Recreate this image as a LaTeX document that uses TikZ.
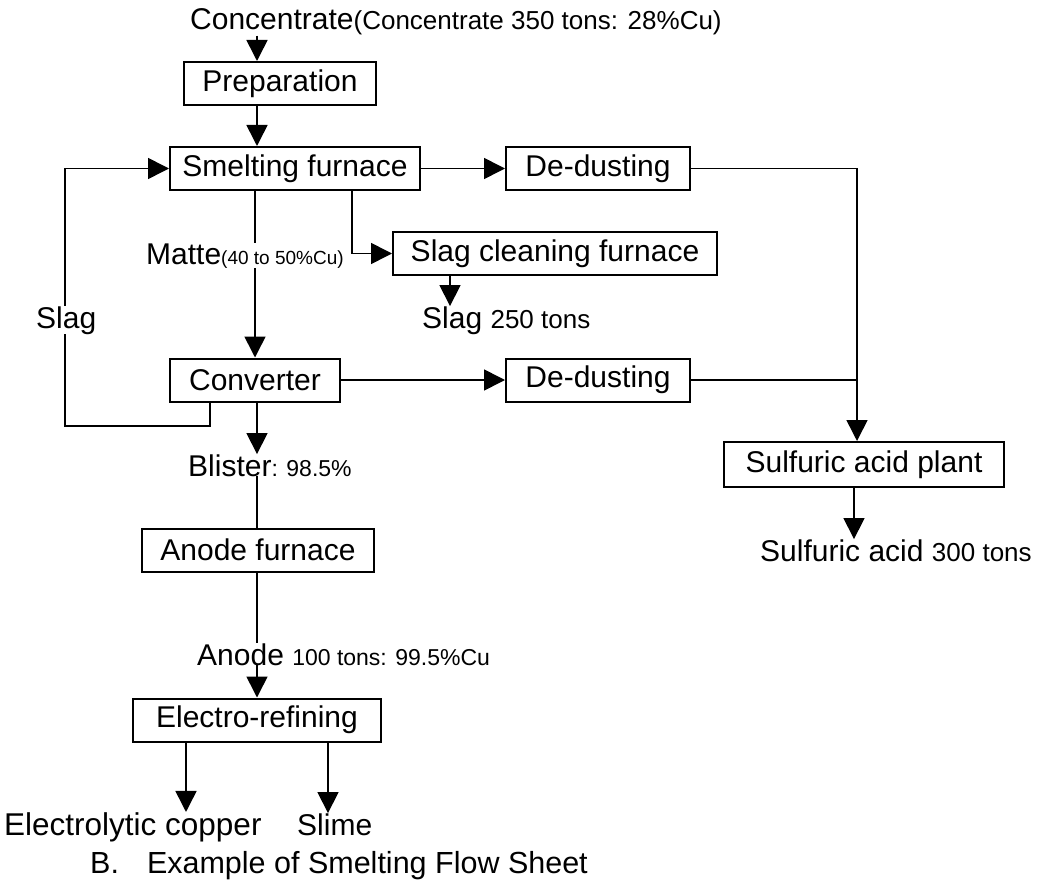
\documentclass[tikz,border=0pt]{standalone}
\usepackage{fontspec}
\setmainfont{Liberation Sans}
\usetikzlibrary{arrows.meta, positioning}

\newcommand{\bigtxt}{\fontsize{30}{36}\selectfont}
\newcommand{\midtxt}{\fontsize{26}{31}\selectfont}
\newcommand{\smalltxt}{\fontsize{23}{28}\selectfont}
\newcommand{\tinytxt}{\fontsize{19}{23}\selectfont}

\begin{document}
\begin{tikzpicture}[x=1pt, y=-1pt, >={Triangle[width=21pt,length=21pt]},
    box/.style={draw, line width=2pt, minimum height=43pt, inner sep=0pt, font=\bigtxt},
    lbl/.style={inner sep=0pt, anchor=base west},
    flow/.style={line width=1.6pt}]
  \useasboundingbox (0,0) rectangle (1043,885);

  % process boxes
  \node[box, minimum width=192pt] (prep) at (280,83.5) {Preparation};
  \node[box, minimum width=250pt] (smelt) at (295,168.5) {Smelting furnace};
  \node[box, minimum width=184pt] (dust1) at (598,168.5) {De-dusting};
  \node[box, minimum width=324pt] (slagcl) at (555,253.5) {Slag cleaning furnace};
  \node[box, minimum width=170pt] (conv) at (255,380) {Converter};
  \node[box, minimum width=184pt] (dust2) at (598,380) {De-dusting};
  \node[box, minimum width=280pt, minimum height=45pt] (sulf) at (864,464.5) {Sulfuric acid plant};
  \node[box, minimum width=232pt] (anodef) at (258,550) {Anode furnace};
  \node[box, minimum width=248pt] (electro) at (257,720) {Electro-refining};

  % products and streams
  \node[lbl] (conc) at (190,30) {\bigtxt Concentrate\midtxt(Concentrate 350 tons: 28\%Cu)};
  \node[lbl] (slag250) at (422,328) {\bigtxt Slag \midtxt 250 tons};
  \node[lbl] (blister) at (188,476) {\bigtxt Blister\smalltxt: 98.5\%};
  \node[lbl] (anode) at (197,665) {\bigtxt Anode \smalltxt 100 tons: 99.5\%Cu};
  \node[lbl] (sacid) at (760,561) {\bigtxt Sulfuric acid \midtxt 300 tons};
  \node[lbl, font=\fontsize{31.5}{38}\selectfont] (ecopper) at (4,835) {Electrolytic copper};
  \node[lbl] (slime) at (297,835) {\bigtxt Slime};
  \node[lbl] (title) at (90,873) {\fontsize{30.5}{37}\selectfont B.\hspace{28pt}Example of Smelting Flow Sheet};

  % columns of the connectors
  \coordinate (col) at (257,0);
  \coordinate (br) at (352,0);
  \coordinate (sx) at (450,0);
  \coordinate (jn) at (857,0);
  \coordinate (sa) at (854,0);
  \coordinate (ea) at (186,0);
  \coordinate (eb) at (328,0);
  \coordinate (lp) at (210,426);
  \coordinate (lq) at (65,426);

  \draw[flow,->] (col |- conc.south) -- (col |- prep.north);
  \draw[flow,->] (col |- prep.south) -- (col |- smelt.north);
  \draw[flow,->] (smelt.east) -- (dust1.west);
  \draw[flow,->] (dust1.east) -| (jn |- sulf.north);
  \draw[flow] (dust2.east) -- (jn |- dust2.east);
  \draw[flow,->] (conv.north |- smelt.south) -- (conv.north);
  \draw[flow,->] (br |- smelt.south) |- (slagcl.west);
  \draw[flow,->] (sx |- slagcl.south) -- (sx |- slag250.north);
  \draw[flow,->] (conv.east) -- (dust2.west);
  \draw[flow,->] (lp |- conv.south) -- (lp) -- (lq) |- (smelt.west);
  \draw[flow,->] (col |- conv.south) -- (col |- blister.north);
  \draw[flow] (col |- blister.south) -- (col |- anodef.north);
  \draw[flow] (col |- anodef.south) -- (col |- anode.north);
  \draw[flow,->] (col |- anode.south) -- (col |- electro.north);
  \draw[flow,->] (ea |- electro.south) -- (ea |- ecopper.north);
  \draw[flow,->] (eb |- electro.south) -- (eb |- slime.north);
  \draw[flow,->] (sa |- sulf.south) -- (sa |- sacid.north);

  % labels sitting on the lines
  \node[lbl, fill=white] (matte) at (146,264) {\bigtxt Matte\tinytxt(40 to 50\%Cu)};
  \node[lbl, fill=white] (slaglbl) at (36,328) {\bigtxt Slag};
\end{tikzpicture}
\end{document}
